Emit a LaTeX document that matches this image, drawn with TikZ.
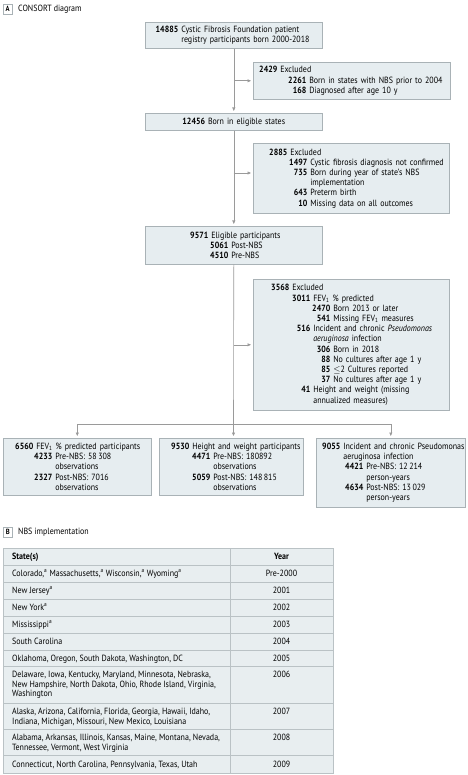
\documentclass[tikz,border=0pt]{standalone}
\usepackage{fontspec}
\setmainfont{PT Sans}[FakeStretch=0.885]
\usetikzlibrary{arrows.meta}
\definecolor{boxfill}{HTML}{E6EDF0}
\definecolor{boxline}{HTML}{A9B2B6}
\definecolor{conn}{HTML}{9A9A9A}
\definecolor{tabfill}{HTML}{E8EEF0}
\definecolor{tabline}{HTML}{BAC2C5}
\newcommand\rw[3]{\hspace*{#1pt}\makebox[0pt][r]{\bfseries #2}\hspace{3pt}#3}
\tikzset{
 box/.style={draw=boxline, fill=boxfill, line width=0.6pt, inner xsep=0pt, inner ysep=2pt,
   anchor=north west, align=left, font=\fontsize{9}{10.2}\selectfont},
 arr/.style={draw=conn, line width=0.6pt, -{Triangle[length=3.5pt,width=3pt]}, shorten >=2pt},
 ln/.style={draw=conn, line width=0.6pt},
 tag/.style={draw=boxline, line width=0.5pt, font=\fontsize{7.5}{8}\selectfont\bfseries,
   minimum width=9pt, minimum height=10pt, inner sep=0pt, anchor=north west},
 ttl/.style={font=\fontsize{9}{10}\selectfont, anchor=west, inner sep=0pt},
 cell/.style={font=\fontsize{9}{9.5}\selectfont, anchor=base west, inner sep=0pt},
 ycell/.style={font=\fontsize{9}{9.5}\selectfont, anchor=base, inner sep=0pt},
}
\newcommand\tl[1]{\begin{tabular}[t]{@{}l@{}}#1\end{tabular}}
\begin{document}
\begin{tikzpicture}[x=1pt,y=-1pt]
\useasboundingbox (0,0) rectangle (467,775);
% section labels
\node[tag] (tA) at (3,4) {A};
\node[ttl] (lA) at (18,9) {CONSORT diagram};
\node[tag] (tB) at (3,527) {B};
\node[ttl] (lB) at (18,532) {NBS implementation};

% flow boxes
\node[box, text width=177pt, minimum height=26pt] (b1) at (145,22)
 {\rw{33}{14885}{Cystic Fibrosis Foundation patient}\\
  \rw{33}{}{registry participants born 2000-2018}};
\node[box, text width=197pt, minimum height=37pt] (e1) at (253,62)
 {\rw{24}{2429}{Excluded}\\
  \rw{53}{2261}{Born in states with NBS prior to 2004}\\
  \rw{53}{168}{Diagnosed after age 10 y}};
\node[box, text width=177pt, minimum height=17pt, align=center] (b2) at (145,113)
 {{\bfseries 12456}\hspace{3pt}Born in eligible states};
\node[box, text width=196pt, minimum height=70pt] (e2) at (253,143)
 {\rw{34}{2885}{Excluded}\\
  \rw{54}{1497}{Cystic fibrosis diagnosis not confirmed}\\
  \rw{54}{735}{Born during year of state’s NBS}\\
  \rw{54}{}{implementation}\\
  \rw{54}{643}{Preterm birth}\\
  \rw{54}{10}{Missing data on all outcomes}};
\node[box, text width=177pt, minimum height=38pt] (b3) at (145,226)
 {\rw{63}{9571}{Eligible participants}\\
  \rw{83}{5061}{Post-NBS}\\
  \rw{83}{4510}{Pre-NBS}};
\node[box, text width=196pt, minimum height=131pt] (e3) at (253,279)
 {\rw{36}{3568}{Excluded}\\
  \rw{57}{3011}{FEV\textsubscript{1} \% predicted}\\
  \rw{77}{2470}{Born 2013 or later}\\
  \rw{77}{541}{Missing FEV\textsubscript{1} measures}\\
  \rw{57}{516}{Incident and chronic \textit{Pseudomonas}}\\
  \rw{57}{}{\textit{aeruginosa} infection}\\
  \rw{77}{306}{Born in 2018}\\
  \rw{77}{88}{No cultures after age 1 y}\\
  \rw{77}{85}{$\leq$2 Cultures reported}\\
  \rw{77}{37}{No cultures after age 1 y}\\
  \rw{57}{41}{Height and weight (missing}\\
  \rw{57}{}{annualized measures)}};
\node[box, text width=148pt, minimum height=57pt] (bA) at (3,438)
 {\rw{30}{6560}{FEV\textsubscript{1} \% predicted participants}\\
  \rw{49}{4233}{Pre-NBS: 58\,308}\\
  \rw{49}{}{observations}\\
  \rw{49}{2327}{Post-NBS: 7016}\\
  \rw{49}{}{observations}};
\node[box, text width=144pt, minimum height=57pt] (bB) at (159,438)
 {\rw{30}{9530}{Height and weight participants}\\
  \rw{51}{4471}{Pre-NBS: 180892}\\
  \rw{51}{}{observations}\\
  \rw{51}{5059}{Post-NBS: 148\,815}\\
  \rw{51}{}{observations}};
\node[box, text width=149pt, minimum height=69pt] (bC) at (316,438)
 {\rw{24}{9055}{Incident and chronic Pseudomonas}\\
  \rw{24}{}{aeruginosa infection}\\
  \rw{47}{4421}{Pre-NBS: 12\,214}\\
  \rw{47}{}{person-years}\\
  \rw{47}{4634}{Post-NBS: 13\,029}\\
  \rw{47}{}{person-years}};

% connectors
\draw[arr] (b1.south) -- (b2.north);
\draw[arr] (b1.south |- e1.west) -- (e1.west);
\draw[arr] (b2.south) -- (b3.north);
\coordinate (j2) at (233.5,173);
\draw[arr] (j2) -- (e2.west |- j2);
\coordinate (j4) at (233.5,424);
\draw[ln] (b3.south) -- (j4);
\draw[arr] (b3.south |- e3.west) -- (e3.west);
\draw[ln] (bA.north |- j4) -- (bC.north |- j4);
\draw[arr] (j4) -- (j4 |- bB.north);
\draw[arr] (bA.north |- j4) -- (bA.north);
\draw[arr] (bC.north |- j4) -- (bC.north);

% table
\fill[tabfill] (3,548) rectangle (333,773);
\draw[tabline, line width=0.5pt] (3,548) rectangle (333,773);
\foreach \yy in {565,582,599,616,633,650,666,703,729,755}
  \draw[tabline, line width=0.6pt] (3,\yy) -- (333,\yy);
\draw[tabline, line width=0.6pt] (230,548) -- (230,773);

\node[cell, font=\fontsize{9}{9.5}\selectfont\bfseries] (h1) at (12,559.5) {State(s)};
\node[ycell, font=\fontsize{9}{9.5}\selectfont\bfseries] (h2) at (281.5,559.5) {Year};

\node[cell] (s1) at (12,576.5) {Colorado,\textsuperscript{a} Massachusetts,\textsuperscript{a} Wisconsin,\textsuperscript{a} Wyoming\textsuperscript{a}};
\node[ycell] (y1) at (281.5,576.5) {Pre-2000};
\node[cell] (s2) at (12,593.5) {New Jersey\textsuperscript{a}};
\node[ycell] (y2) at (281.5,593.5) {2001};
\node[cell] (s3) at (12,610.5) {New York\textsuperscript{a}};
\node[ycell] (y3) at (281.5,610.5) {2002};
\node[cell] (s4) at (12,627.5) {Mississippi\textsuperscript{a}};
\node[ycell] (y4) at (281.5,627.5) {2003};
\node[cell] (s5) at (12,644.5) {South Carolina};
\node[ycell] (y5) at (281.5,644.5) {2004};
\node[cell] (s6) at (12,661) {Oklahoma, Oregon, South Dakota, Washington, DC};
\node[ycell] (y6) at (281.5,661) {2005};
\node[cell] (s7) at (12,677.5) {\tl{Delaware, Iowa, Kentucky, Maryland, Minnesota, Nebraska,\\ New Hampshire, North Dakota, Ohio, Rhode Island, Virginia,\\ Washington}};
\node[ycell] (y7) at (281.5,677.5) {2006};
\node[cell] (s8) at (12,714.5) {\tl{Alaska, Arizona, California, Florida, Georgia, Hawaii, Idaho,\\ Indiana, Michigan, Missouri, New Mexico, Louisiana}};
\node[ycell] (y8) at (281.5,714.5) {2007};
\node[cell] (s9) at (12,740.5) {\tl{Alabama, Arkansas, Illinois, Kansas, Maine, Montana, Nevada,\\ Tennessee, Vermont, West Virginia}};
\node[ycell] (y9) at (281.5,740.5) {2008};
\node[cell] (s10) at (12,767) {Connecticut, North Carolina, Pennsylvania, Texas, Utah};
\node[ycell] (y10) at (281.5,767) {2009};
\end{tikzpicture}
\end{document}
